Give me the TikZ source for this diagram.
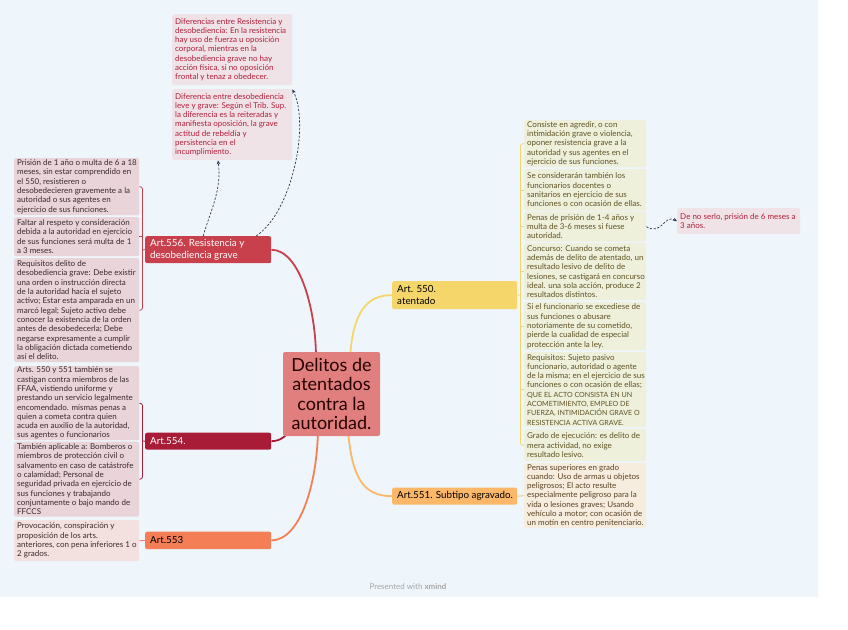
\documentclass[tikz,border=0pt]{standalone}
\usepackage{fontspec}
\setmainfont{Lato}
\usetikzlibrary{arrows.meta}
\definecolor{bgc}{HTML}{EEF6FB}
\definecolor{cC}{HTML}{E07F7D}
\definecolor{c556}{HTML}{C7404C}
\definecolor{c554}{HTML}{A81C38}
\definecolor{c553}{HTML}{F47E56}
\definecolor{c550}{HTML}{F4D66B}
\definecolor{c551}{HTML}{FDB769}
\definecolor{pinkf}{HTML}{E9D4DA}
\definecolor{pinkl}{HTML}{F3E1DF}
\definecolor{pinkt}{HTML}{F0E3E7}
\definecolor{redt}{HTML}{B21E3C}
\definecolor{darkt}{HTML}{3A2A2C}
\definecolor{yelf}{HTML}{EEF0DC}
\definecolor{olivet}{HTML}{5E5222}
\definecolor{begf}{HTML}{F6EDDF}
\definecolor{brownt}{HTML}{5B4322}
\definecolor{dashc}{HTML}{2E3550}
\newcommand\leaffont{\fontsize{8.0}{9.3}\selectfont}
\newcommand\capsline[1]{{\fontsize{7.1}{9.3}\selectfont #1}}
\newcommand\mkleaf[8]{%
  \node[#6, minimum width=#4pt, minimum height=#5pt, anchor=north west] (#1) at (#2,#3) {};
  \node[#7, anchor=west] (#1t) at ([xshift=3pt]#1.west) {#8};}
\begin{document}
\begin{tikzpicture}[x=1pt,y=-1pt,
  box/.style={rounded corners=2pt, inner sep=0pt, draw=none},
  pinkbox/.style={box, fill=pinkf},
  pinklbox/.style={box, fill=pinkl},
  topbox/.style={box, fill=pinkt},
  yelbox/.style={box, fill=yelf},
  begbox/.style={box, fill=begf},
  txt/.style={inner sep=0pt, align=left, font=\leaffont},
  darktxt/.style={txt, text=darkt},
  redtxt/.style={txt, text=redt},
  olivetxt/.style={txt, text=olivet},
  browntxt/.style={txt, text=brownt},
  art/.style={rounded corners=2pt, inner sep=0pt, anchor=north west, align=left, font=\fontsize{9.8}{12.5}\selectfont},
  arttxt/.style={inner sep=0pt, anchor=west, align=left, font=\fontsize{9.8}{12.5}\selectfont},
  mainline/.style={line width=1.8pt},
  brk/.style={line width=0.8pt, rounded corners=2.5pt},
  dsh/.style={dashc, line width=0.7pt, dash pattern=on 2.2pt off 1.6pt, -{Stealth[length=4pt,width=3.5pt]}}
]
\useasboundingbox (0,0) rectangle (848,629);
\fill[white] (0,0) rectangle (848,629);
\fill[bgc] (0,0) rectangle (818,597);

% main branch curve ends (behind central node)
\coordinate (e556) at (316,358);
\coordinate (e554) at (292,426);
\coordinate (e553) at (318,430);
\coordinate (e550) at (350,358);
\coordinate (e551) at (348,430);

% Art nodes
\node[art, fill=c556, minimum width=126pt, minimum height=27pt] (a556) at (145,236) {};
\node[arttxt, text=white] (a556t) at ([xshift=5pt]a556.west) {Art.556. Resistencia y\\desobediencia grave};
\node[art, fill=c554, minimum width=126pt, minimum height=17pt] (a554) at (145,432.5) {};
\node[arttxt, text=white] (a554t) at ([xshift=5pt]a554.west) {Art.554.};
\node[art, fill=c553, minimum width=126pt, minimum height=17.5pt] (a553) at (145,531.5) {};
\node[arttxt, text=black] (a553t) at ([xshift=5pt]a553.west) {Art.553};
\node[art, fill=c550, minimum width=125pt, minimum height=28pt] (a550) at (392,281) {};
\node[arttxt, text=black] (a550t) at ([xshift=5pt]a550.west) {Art. 550.\\atentado};
\node[art, fill=c551, minimum width=125pt, minimum height=17pt] (a551) at (392,487.5) {};
\node[arttxt, text=black] (a551t) at ([xshift=5pt]a551.west) {Art.551. Subtipo agravado.};

\draw[mainline, c556] (a556.east) .. controls (300,250) and (316,310) .. (e556);
\draw[mainline, c554] (a554.east) .. controls (281,441) and (287,436) .. (e554);
\draw[mainline, c553] (a553.east) .. controls (300,540) and (317,485) .. (e553);
\draw[mainline, c550] (e550) .. controls (353,310) and (368,295) .. (a550.west);
\draw[mainline, c551] (e551) .. controls (352,482) and (366,496) .. (a551.west);

% central node
\node[rounded corners=2pt, fill=cC, minimum width=97pt, minimum height=84pt, inner sep=0pt, align=center, text=black!85!red, font=\fontsize{18}{19.5}\selectfont] (c) at (331.5,394) {Delitos de\\atentados\\contra la\\autoridad.};

% top notes
\mkleaf{t1}{172}{14}{120}{71}{topbox}{redtxt}{Diferencias entre Resistencia y\\desobediencia: En la resistencia\\hay uso de fuerza u oposición\\corporal, mientras en la\\desobediencia grave no hay\\acción física, si no oposición\\frontal y tenaz a obedecer.}
\mkleaf{t2}{172}{89}{120}{71}{topbox}{redtxt}{Diferencia entre desobediencia\\leve y grave: Según el Trib. Sup.\\la diferencia es la reiteradas y\\manifiesta oposición, la grave\\actitud de rebeldía y\\persistencia en el\\incumplimiento.}

% left leaves
\mkleaf{l1}{14}{158}{125}{57}{pinkbox}{darktxt}{Prisión de 1 año o multa de 6 a 18\\meses, sin estar comprendido en\\el 550, resistieren o\\desobedecieren gravemente a la\\autoridad o sus agentes en\\ejercicio de sus funciones.}
\mkleaf{l2}{14}{217}{125}{39}{pinkbox}{darktxt}{Faltar al respeto y consideración\\debida a la autoridad en ejercicio\\de sus funciones será multa de 1\\a 3 meses.}
\mkleaf{l3}{14}{258}{125}{104}{pinkbox}{darktxt}{Requisitos delito de\\desobediencia grave: Debe existir\\una orden o instrucción directa\\de la autoridad hacia el sujeto\\activo; Estar esta amparada en un\\marcó legal; Sujeto activo debe\\conocer la existencia de la orden\\antes de desobedecerla; Debe\\negarse expresamente a cumplir\\la obligación dictada cometiendo\\así el delito.}
\mkleaf{l4}{14}{366}{125}{74}{pinkbox}{darktxt}{Arts. 550 y 551 también se\\castigan contra miembros de las\\FFAA, vistiendo uniforme y\\prestando un servicio legalmente\\encomendado. mismas penas a\\quien a cometa contra quien\\acuda en auxilio de la autoridad,\\sus agentes o funcionarios}
\mkleaf{l5}{14}{441.5}{125}{75}{pinkbox}{darktxt}{También aplicable a: Bomberos o\\miembros de protección civil o\\salvamento en caso de catástrofe\\o calamidad; Personal de\\seguridad privada en ejercicio de\\sus funciones y trabajando\\conjuntamente o bajo mando de\\FFCCS}
\mkleaf{l6}{14}{520}{125}{41}{pinklbox}{darktxt}{Provocación, conspiración y\\proposición de los arts.\\anteriores, con pena inferiores 1 o\\2 grados.}

% right leaves
\mkleaf{r1}{524}{120}{122}{47}{yelbox}{olivetxt}{Consiste en agredir, o con\\intimidación grave o violencia,\\oponer resistencia grave a la\\autoridad y sus agentes en el\\ejercicio de sus funciones.}
\mkleaf{r2}{524}{169}{122}{41.5}{yelbox}{olivetxt}{Se considerarán también los\\funcionarios docentes o\\sanitarios en ejercicio de sus\\funciones o con ocasión de ellas.}
\mkleaf{r3}{524}{211.5}{122}{30}{yelbox}{olivetxt}{Penas de prisión de 1-4 años y\\multa de 3-6 meses si fuese\\autoridad.}
\mkleaf{r4}{524}{243}{122}{57}{yelbox}{olivetxt}{Concurso: Cuando se cometa\\además de delito de atentado, un\\resultado lesivo de delito de\\lesiones, se castigará en concurso\\ideal. una sola acción, produce 2\\resultados distintos.}
\mkleaf{r5}{524}{302}{122}{48}{yelbox}{olivetxt}{Si el funcionario se excediese de\\sus funciones o abusare\\notoriamente de su cometido,\\pierde la cualidad de especial\\protección ante la ley.}
\mkleaf{r6}{524}{352}{122}{75}{yelbox}{olivetxt}{Requisitos: Sujeto pasivo\\funcionario, autoridad o agente\\de la misma; en el ejercicio de sus\\funciones o con ocasión de ellas;\\\capsline{QUE EL ACTO CONSISTA EN UN}\\\capsline{ACOMETIMIENTO, EMPLEO DE}\\\capsline{FUERZA, INTIMIDACIÓN GRAVE O}\\\capsline{RESISTENCIA ACTIVA GRAVE.}}
\mkleaf{r7}{524}{429}{122}{32}{yelbox}{olivetxt}{Grado de ejecución: es delito de\\mera actividad, no exige\\resultado lesivo.}
\mkleaf{r8}{524}{463}{122}{65}{begbox}{browntxt}{Penas superiores en grado\\cuando: Uso de armas u objetos\\peligrosos; El acto resulte\\especialmente peligroso para la\\vida o lesiones graves; Usando\\vehículo a motor; con ocasión de\\un motín en centro penitenciario.}
\mkleaf{fr}{677}{208}{123}{26}{topbox}{redtxt}{De no serlo, prisión de 6 meses a\\3 años.}

% brackets
\coordinate (b556) at (142.5,250);
\draw[brk, c556] (l1.east) -| (b556) |- (l3.east);
\draw[brk, c556] (l2.east) -- (l2.east -| b556);
\draw[brk, c556] (b556) -- (a556.west);
\coordinate (b554) at (142.5,441);
\draw[brk, c554] (l4.east) -| (b554) |- (l5.east);
\draw[brk, c554] (b554) -- (a554.west);
\draw[brk, c553] (l6.east) -- (a553.west);
\coordinate (b550) at (520.5,295);
\draw[brk, c550] (r1.west) -| (b550) |- (r7.west);
\foreach \n in {r2,r3,r4,r5,r6} \draw[brk, c550] (\n.west) -- (\n.west -| b550);
\draw[brk, c550] (a550.east) -- (b550);
\draw[brk, c551] (a551.east) -- (r8.west);

% dashed relations
\draw[dsh] ([xshift=-5pt]a556.north) .. controls (210,212) and (222,190) .. (t2.south -| 218,0);
\draw[dsh] ([xshift=48pt]a556.north) .. controls (292,212) and (310,125) .. ([yshift=-4pt]t1.south east);
\draw[dsh] (r3.east) .. controls (662,236) and (664,214) .. (fr.west);

% footer
\node[font=\fontsize{8}{9.5}\selectfont, text=black!35] (foot) at (408,587) {Presented with \textbf{xmind}};
\end{tikzpicture}
\end{document}
